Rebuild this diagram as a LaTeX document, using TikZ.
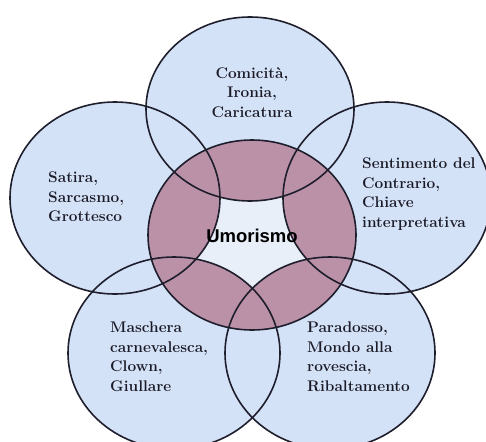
\documentclass[tikz,border=0pt]{standalone}
\usepackage{fontspec}
\newfontfamily\umfont{Liberation Sans}
\usetikzlibrary{positioning}
\definecolor{petalblue}{HTML}{D4E2F7}
\definecolor{coremauve}{HTML}{BB91A8}
\definecolor{corelight}{HTML}{E8EFF9}
\definecolor{rimline}{HTML}{1E1E2C}

\begin{document}
\begin{tikzpicture}[x=1pt, y=-1pt, font=\fontsize{15.4}{19.5}\selectfont\bfseries,
    txt/.style={align=left, anchor=north west, inner sep=0pt, text=rimline!90!black},
    rim/.style={draw=rimline, line width=1.6pt}]
    \useasboundingbox (0,0) rectangle (486,441);
    % petali
    \foreach \px/\py/\rx/\ry in {250/109/104/92, 115/198/105/96, 387/198/104/96, 174/353/106/96, 330/353/105/96}
        \fill[petalblue] (\px,\py) ellipse ({\rx} and {\ry});
    % nucleo
    \fill[corelight] (252,235) ellipse (104 and 95);
    \begin{scope}
        \clip (252,235) ellipse (104 and 95);
        \foreach \px/\py/\rx/\ry in {250/109/104/92, 115/198/105/96, 387/198/104/96, 174/353/106/96, 330/353/105/96}
            \fill[coremauve] (\px,\py) ellipse ({\rx} and {\ry});
    \end{scope}
    % contorni
    \foreach \px/\py/\rx/\ry in {250/109/104/92, 115/198/105/96, 387/198/104/96, 174/353/106/96, 330/353/105/96}
        \draw[rim] (\px,\py) ellipse ({\rx} and {\ry});
    \draw[rim] (252,235) ellipse (104 and 95);

    \node[txt, align=center, anchor=north] (comicita) at (252,67) {Comicità,\\Ironia,\\Caricatura};
    \node[txt] (satira) at (48,172) {Satira,\\Sarcasmo,\\Grottesco};
    \node[txt] (sentimento) at (362,158) {Sentimento del\\Contrario,\\Chiave\\interpretativa};
    \node[txt] (maschera) at (110,322) {Maschera\\carnevalesca,\\Clown,\\Giullare};
    \node[txt] (paradosso) at (307,322) {Paradosso,\\Mondo alla\\rovescia,\\Ribaltamento};
    \node[inner sep=0pt] (umorismo) at (252,236) {\umfont\fontsize{18.5}{20}\selectfont\bfseries Umorismo};
\end{tikzpicture}
\end{document}
